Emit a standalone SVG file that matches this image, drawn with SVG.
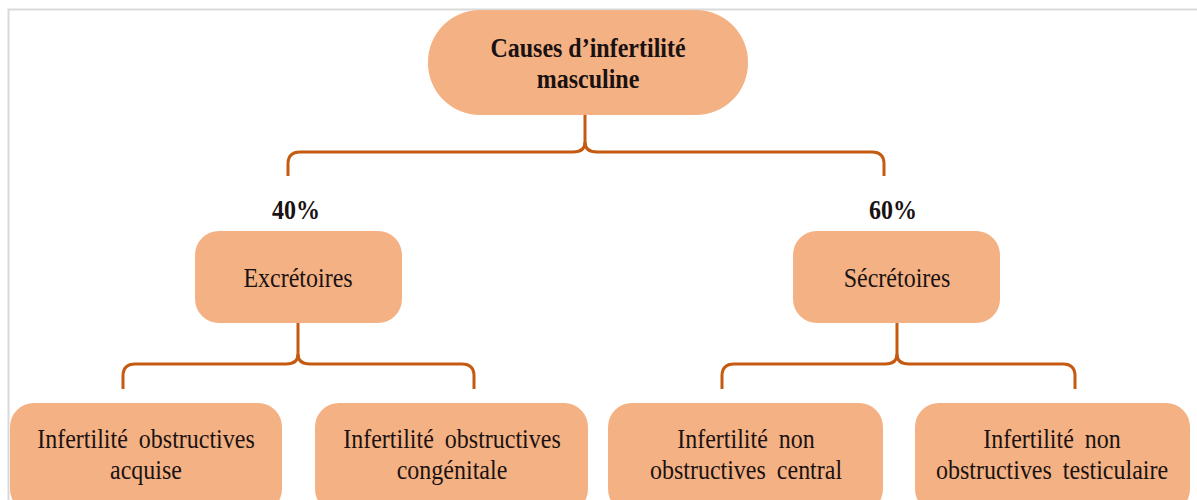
<svg xmlns="http://www.w3.org/2000/svg" width="1197" height="500" viewBox="0 0 1197 500">
<style>
.box{fill:#F4B183;}
.t{font-family:"Liberation Serif","Times New Roman",serif;font-size:24px;fill:#1a1212;text-anchor:middle;}
.b{font-weight:bold;}
.c{fill:none;stroke:#C55A11;stroke-width:3;stroke-linecap:butt;stroke-linejoin:round;}
</style>
<rect width="1197" height="500" fill="#ffffff"/>
<path d="M8.5,500 V9.5 H1197" fill="none" stroke="#d9d9d9" stroke-width="2"/>
<g id="connectors">
<path class="c" d="M585,115 V142 Q585,152 573,152 H300 Q288,152 288,164 V176"/>
<path class="c" d="M585,142 Q585,152 597,152 H872 Q884,152 884,164 V176"/>
<path class="c" d="M298,323 V354 Q298,364 286,364 H135 Q123,364 123,376 V389"/>
<path class="c" d="M298,354 Q298,364 310,364 H462 Q474,364 474,376 V389"/>
<path class="c" d="M897,323 V354 Q897,364 885,364 H734 Q722,364 722,376 V389"/>
<path class="c" d="M897,354 Q897,364 909,364 H1063 Q1075,364 1075,376 V389"/>
</g>
<g id="root">
<rect class="box" x="428" y="10" width="320" height="105" rx="52" ry="52"/>
<text class="t b" transform="translate(588,57) scale(1,1.12)">Causes d’infertilité</text>
<text class="t b" transform="translate(588,88) scale(1,1.12)">masculine</text>
</g>
<g id="pct40"><text class="t b" transform="translate(296,219) scale(1,1.1)">40%</text></g>
<g id="pct60"><text class="t b" transform="translate(893,219) scale(1,1.1)">60%</text></g>
<g id="excretoires">
<rect class="box" x="195" y="231" width="207" height="92" rx="24" ry="24"/>
<text class="t" transform="translate(298,287) scale(1,1.12)">Excrétoires</text>
</g>
<g id="secretoires">
<rect class="box" x="793" y="231" width="207" height="92" rx="24" ry="24"/>
<text class="t" transform="translate(897,287) scale(1,1.12)">Sécrétoires</text>
</g>
<g id="acquise">
<rect class="box" x="10" y="403" width="272" height="110" rx="24" ry="24"/>
<text class="t" transform="translate(146,448) scale(1,1.12)" word-spacing="5">Infertilité obstructives</text>
<text class="t" transform="translate(146,479) scale(1,1.12)">acquise</text>
</g>
<g id="congenitale">
<rect class="box" x="315" y="403" width="273" height="110" rx="24" ry="24"/>
<text class="t" transform="translate(452,448) scale(1,1.12)" word-spacing="5">Infertilité obstructives</text>
<text class="t" transform="translate(452,479) scale(1,1.12)">congénitale</text>
</g>
<g id="central">
<rect class="box" x="608" y="403" width="275" height="110" rx="24" ry="24"/>
<text class="t" transform="translate(746,448) scale(1,1.12)" word-spacing="5">Infertilité non</text>
<text class="t" transform="translate(746,479) scale(1,1.12)" word-spacing="5">obstructives central</text>
</g>
<g id="testiculaire">
<rect class="box" x="915" y="403" width="275" height="110" rx="24" ry="24"/>
<text class="t" transform="translate(1052,448) scale(1,1.12)" word-spacing="5">Infertilité non</text>
<text class="t" transform="translate(1052,479) scale(1,1.12)" word-spacing="5">obstructives testiculaire</text>
</g>
</svg>
